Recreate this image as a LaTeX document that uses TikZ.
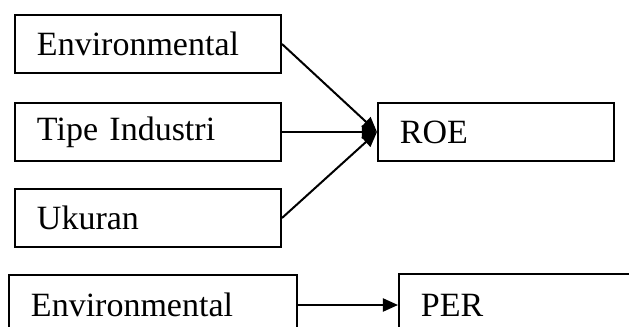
\documentclass[tikz,border=0pt]{standalone}
\usepackage{fontspec}
\setmainfont{Liberation Serif}
\usetikzlibrary{arrows.meta}

\begin{document}
\begin{tikzpicture}[x=0.5pt, y=-0.5pt,
                every node/.style = {font=\fontsize{17}{20}\selectfont},
                varbox/.style = {draw, line width=1pt, anchor=north west,
                        align=left, inner xsep=11pt, inner ysep=0pt,
                        minimum height=29pt, text width=#1
                    },
                link/.style = {line width=1pt, -{Triangle[length=7.5pt, width=6.5pt]}}]
            \useasboundingbox (0,0) rectangle (629,327);
            \clip (0,0) rectangle (629,327);
            % model ROE
            \node[varbox=111pt] (env) at (14,14) {Environmental};
            \node[varbox=111pt] (tipe) at (14,102) {Tipe Industri};
            \node[varbox=111pt] (ukuran) at (14,188) {Ukuran};
            \node[varbox=96pt] (roe) at (377,102) {ROE};
            \draw[link] (env.east) -- (roe.west);
            \draw[link] (tipe.east) -- (roe.west);
            \draw[link] (ukuran.east) -- (roe.west);
            % model PER
            \node[varbox=122pt, minimum height=30pt] (envper) at (8,274) {Environmental};
            \node[varbox=98pt, minimum height=31pt] (per) at (398,273) {PER};
            \draw[link] (envper.east) -- (envper.east -| per.west);
        \end{tikzpicture}
\end{document}
